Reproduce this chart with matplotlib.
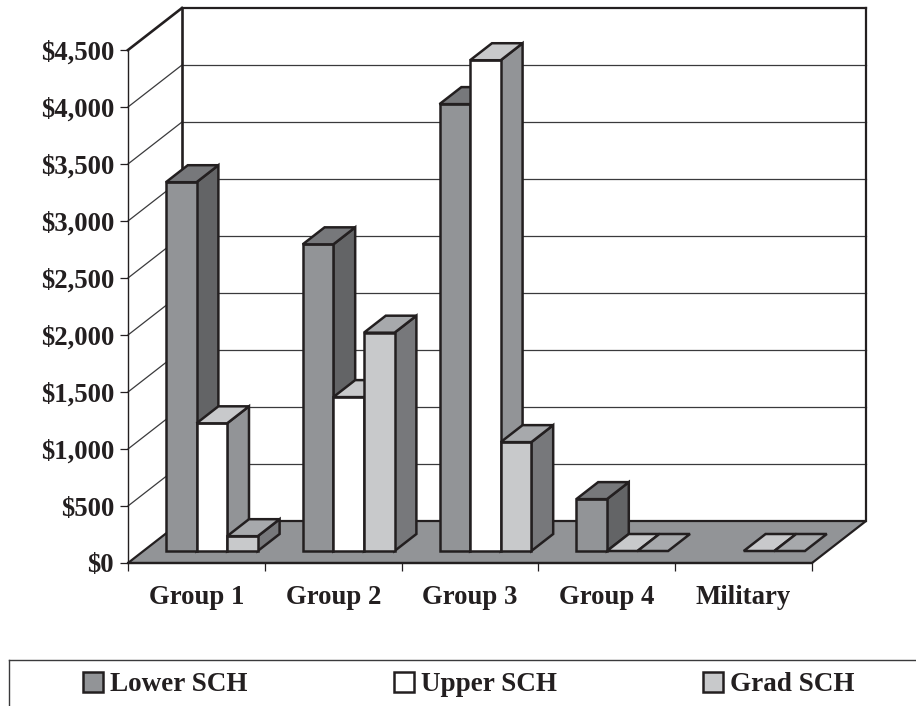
import matplotlib
matplotlib.use("Agg")
import matplotlib.pyplot as plt
from matplotlib.patches import Polygon, Patch
from matplotlib.lines import Line2D

plt.rcParams['font.family'] = ['Liberation Serif', 'DejaVu Serif']

categories = ['Group 1', 'Group 2', 'Group 3', 'Group 4', 'Military']
lower_sch = [3235, 2690, 3920, 455, 0]
upper_sch = [1120, 1350, 4305, 0, 0]
grad_sch = [130, 1915, 955, 0, 0]
series_names = ['Lower SCH', 'Upper SCH', 'Grad SCH']
y_ticks = [0, 500, 1000, 1500, 2000, 2500, 3000, 3500, 4000, 4500]

INK = '#231f20'
# front, top, side shades per series
SHADES = [('#929497', '#77787b', '#636466'),
          ('#ffffff', '#c8c9cb', '#929497'),
          ('#c8c9cb', '#a7a9ac', '#77787b')]

W, H = 916, 706
fig = plt.figure(figsize=(W / 100, H / 100), dpi=100)
ax = fig.add_axes([128 / W, (H - 563) / H, (812 - 128) / W, (563 - 50) / H])
ax.set_xlim(0, len(categories))
ax.set_ylim(0, 4500)
ax.patch.set_visible(False)
for s in ('top', 'right'):
    ax.spines[s].set_visible(False)
for s in ('left', 'bottom'):
    ax.spines[s].set_color(INK)
ax.spines['left'].set_linewidth(1.0)
ax.spines['left'].set_zorder(1)
ax.spines['bottom'].set_linewidth(1.6)
ax.spines['bottom'].set_zorder(1.5)

DX = 54 / 136.8   # depth shift in category units
DY = 42 / 114 * 1000  # depth shift in value units
BAR_W = 0.2237
BAR_D0, BAR_D1 = 12 / 42, 29 / 42
OFFSET = (1 - 3 * BAR_W) / 2


def P(x, v, d):
    return (x + d * DX, v + d * DY)


def poly(points, face, edge=INK, lw=1.8, z=3):
    ax.add_patch(Polygon(points, closed=True, facecolor=face, edgecolor=edge,
                         linewidth=lw, joinstyle='miter', clip_on=False, zorder=z))


def line(a, b, lw=0.9, color=INK, z=1):
    ax.add_line(Line2D([a[0], b[0]], [a[1], b[1]], lw=lw, color=color,
                       clip_on=False, zorder=z, solid_capstyle='projecting'))


n = len(categories)
top = y_ticks[-1]

# gridlines on walls
for t in y_ticks[1:-1]:
    line(P(0, t, 0), P(0, t, 1), lw=0.9, color='#3a3a3c')
    line(P(0, t, 1), P(n, t, 1), lw=0.9, color='#3a3a3c')

# floor
poly([P(0, 0, 0), P(n, 0, 0), P(n, 0, 1), P(0, 0, 1)], '#929497', lw=1.6, z=1.2)

# wall outline
line(P(0, top, 0), P(0, top, 1), lw=1.9, z=1.4)
line(P(0, 0, 1), P(0, top, 1), lw=1.9, z=1.4)
line(P(0, top, 1), P(n, top, 1), lw=1.6, z=1.4)
line(P(n, 0, 1), P(n, top, 1), lw=1.6, z=1.4)

# bars, painted left to right so nearer faces cover earlier sides
values = [lower_sch, upper_sch, grad_sch]
for c in range(n):
    for s, vals in enumerate(values):
        v = vals[c]
        f, t, sd = SHADES[s]
        x0 = c + OFFSET + s * BAR_W
        x1 = x0 + BAR_W
        z = 3 + c + s * 0.1
        if v > 0:
            poly([P(x1, 0, BAR_D0), P(x1, 0, BAR_D1), P(x1, v, BAR_D1), P(x1, v, BAR_D0)], sd, z=z)
            poly([P(x0, 0, BAR_D0), P(x1, 0, BAR_D0), P(x1, v, BAR_D0), P(x0, v, BAR_D0)], f, z=z)
        if not (v == 0 and c == 3 and s == 0) and not (v == 0 and s == 0):
            poly([P(x0, v, BAR_D0), P(x1, v, BAR_D0), P(x1, v, BAR_D1), P(x0, v, BAR_D1)], t, z=z)
        elif v > 0:
            pass
    # top of tall lower bars handled above

# ticks and labels
ax.set_yticks(y_ticks)
ax.set_yticklabels([f'${t:,}' for t in y_ticks])
ax.set_xticks(range(n + 1))
ax.set_xticklabels([])
ax.set_xticks([i + 0.5 for i in range(n)], minor=True)
ax.set_xticklabels(categories, minor=True)
ax.tick_params(axis='x', which='major', length=6, width=0.9, color=INK)
ax.tick_params(axis='x', which='minor', length=0, pad=16, labelsize=19.3, labelcolor=INK)
ax.tick_params(axis='y', which='major', length=6, width=0.9, color=INK, pad=4, labelsize=19.3, labelcolor=INK)
for lab in ax.get_xticklabels(minor=True) + ax.get_yticklabels():
    lab.set_fontweight('bold')

# legend with box that runs past the figure edge
fig.add_artist(Line2D([9 / W, 1], [(H - 660) / H] * 2, lw=1.0, color='#3a3a3c'))
fig.add_artist(Line2D([9 / W, 9 / W], [(H - 660) / H, 0], lw=1.0, color='#3a3a3c'))
handles = [Patch(facecolor=SHADES[i][0], edgecolor=INK, linewidth=1.8) for i in range(3)]
leg = fig.legend(handles, series_names, ncol=3, frameon=False, loc='upper left',
                 bbox_to_anchor=(83 / W, (H - 672) / H), bbox_transform=fig.transFigure,
                 borderpad=0, borderaxespad=0, handlelength=0.74, handleheight=0.74,
                 handletextpad=0.26, columnspacing=5.4,
                 prop={'family': 'Liberation Serif', 'weight': 'bold', 'size': 19.5})
for t in leg.get_texts():
    t.set_color(INK)

fig.savefig('out.png', dpi=100)
